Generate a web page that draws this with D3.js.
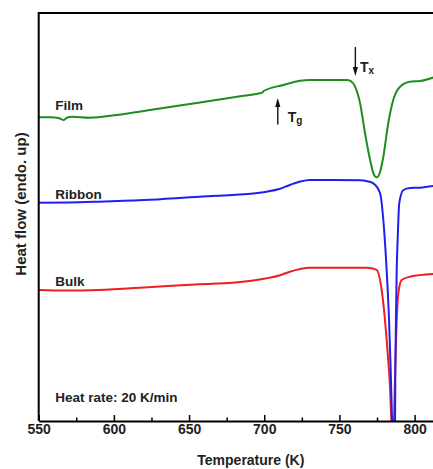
<!DOCTYPE html>
<html>
<head>
<meta charset="utf-8">
<script src="https://cdn.jsdelivr.net/npm/d3@7"></script>
<style>
  body { margin: 0; background: #fff; }
  text { font-family: "Liberation Sans", Arial, sans-serif; font-weight: bold; fill: #222; }
</style>
</head>
<body>
<div id="chart"></div>
<script>
// ── DSC traces (temperature in K, heat flow in a.u., endo. up) ─────────────
const filmT = [550, 558, 563, 566.4, 569, 572, 584, 602, 624, 646, 668, 685, 697, 698.6, 699.6,
               712.7, 723.8, 730.4, 745.7, 755, 757, 760.4, 763.7, 767, 770.4, 772.6, 774.8, 776.8,
               779.2, 782.5, 785.8, 790.3, 796.9, 803.6, 812.5];
const filmV = [303.7, 303.7, 303, 301, 303.5, 304.3, 303.3, 306, 311, 316, 321, 325, 327.7, 328.3, 330,
               336, 340.3, 341, 341, 341, 340.3, 334.3, 318, 288, 261, 247.7, 243.7, 248,
               264.3, 298, 321, 334.3, 339.3, 340, 343.5];

const ribbonT = [550, 570, 590, 620, 657, 679, 701.6, 710, 717, 724, 730.4, 745.8, 763.7, 768.5,
                 772.5, 777, 779.2, 781.4, 783, 784.1, 785, 786, 787, 787.2, 787.6, 788.1, 788.8,
                 789.8, 792.5, 797, 803.6, 812.5];
const ribbonV = [218.3, 218.5, 219.3, 221, 224.3, 226, 229.3, 232, 236, 239.5, 241, 241, 240.7, 239.7,
                 237.7, 228, 201, 151, 101, 51, 1, -40, 1, 51, 101, 151, 184.3,
                 218, 231, 233, 233.3, 235];

const bulkT = [550, 568, 590, 625, 657, 679, 701.6, 710, 717, 724, 730.4, 746, 768, 772, 774.8,
               778.1, 780.3, 782.1, 783.6, 784.5, 785.4, 786.3, 786.8, 787.4, 788.1, 789.2, 791.4,
               796.9, 812.5];
const bulkV = [131, 130.5, 131, 134, 136.8, 138.3, 142.7, 145.5, 149.3, 152, 153.3, 153.3, 153.3, 152.5, 151,
               131, 101, 68, 34.3, 1, -30, 1, 34.3, 68, 101, 128, 141,
               144.3, 147];

const majorTicks = [550, 600, 650, 700, 750, 800];
const minorTicks = [575, 625, 675, 725, 775];

const seriesNames  = ["Film", "Ribbon", "Bulk"];
const seriesColors = ["#1e8c1e", "#1f1ff0", "#f01f1f"];

// label anchors (T, heat flow)
const labelT = 561;
const labelV = [311, 222.5, 135.5];
const noteText = "Heat rate: 20 K/min";
const noteV = 19.5;

// onset markers: [T, tail, head]
const tgArrow = [709, 296.5, 323];
const txArrow = [760.6, 374, 345];

const W = 433, H = 469;

const svg = d3.select("#chart").append("svg")
  .attr("width", W).attr("height", H);

const x = d3.scaleLinear().domain([550, 812.5]).range([38.7, 433.4]);
const y = d3.scaleLinear().domain([0, 408]).range([421, 13]);

svg.append("clipPath").attr("id", "plot-clip")
  .append("rect")
    .attr("x", x(550)).attr("y", y(408))
    .attr("width", W - x(550)).attr("height", y(0) - y(408));

// ── traces ────────────────────────────────────────────────────────────────
const line = d3.line().x(d => x(d[0])).y(d => y(d[1])).curve(d3.curveMonotoneX);
const traces = [d3.zip(filmT, filmV), d3.zip(ribbonT, ribbonV), d3.zip(bulkT, bulkV)];

const g = svg.append("g").attr("clip-path", "url(#plot-clip)");
// bulk first so ribbon sits on top at the dips
[2, 1, 0].forEach(i => {
  g.append("path")
    .datum(traces[i])
    .attr("fill", "none")
    .attr("stroke", seriesColors[i])
    .attr("stroke-width", 2)
    .attr("stroke-linejoin", "round")
    .attr("d", line);
});

// ── frame & axes ──────────────────────────────────────────────────────────
svg.append("line")
  .attr("x1", x(550)).attr("x2", x(550))
  .attr("y1", y(408)).attr("y2", y(0))
  .attr("stroke", "#000").attr("stroke-width", 2);
svg.append("line")
  .attr("x1", x(550) - 1).attr("x2", W)
  .attr("y1", y(408)).attr("y2", y(408))
  .attr("stroke", "#000").attr("stroke-width", 2);

const xAxisG = svg.append("g")
  .attr("transform", `translate(0,${y(0)})`)
  .call(d3.axisBottom(x)
    .tickValues(majorTicks)
    .tickFormat(d3.format("d"))
    .tickSizeInner(-6)
    .tickSizeOuter(0)
    .tickPadding(3.2));
xAxisG.select("path.domain").attr("stroke-width", 2);
xAxisG.selectAll(".tick line").attr("stroke-width", 1.5);
xAxisG.selectAll("text")
  .style("font-size", "14px")
  .style("font-weight", "bold")
  .style("font-family", "'Liberation Sans', Arial, sans-serif")
  .attr("fill", "#222");

const minorG = svg.append("g")
  .attr("transform", `translate(0,${y(0)})`)
  .call(d3.axisBottom(x).tickValues(minorTicks).tickFormat("").tickSizeInner(-3.5).tickSizeOuter(0));
minorG.select("path.domain").remove();
minorG.selectAll(".tick line").attr("stroke-width", 1.5);

// axis titles
svg.append("text")
  .attr("x", (x(550) + W) / 2 + 15).attr("y", 465)
  .attr("text-anchor", "middle")
  .style("font-size", "14px")
  .text("Temperature (K)");
svg.append("text")
  .attr("transform", `translate(26,${y(217)}) rotate(-90)`)
  .attr("text-anchor", "middle")
  .style("font-size", "15px")
  .text("Heat flow (endo. up)");

// ── series labels & note ─────────────────────────────────────────────────
seriesNames.forEach((name, i) => {
  svg.append("text")
    .attr("x", x(labelT)).attr("y", y(labelV[i]))
    .style("font-size", "13.5px")
    .text(name);
});
svg.append("text")
  .attr("x", x(labelT)).attr("y", y(noteV))
  .style("font-size", "13.5px")
  .text(noteText);

// ── Tg / Tx arrows ────────────────────────────────────────────────────────
function arrow(a) {
  const ax = x(a[0]), y0 = y(a[1]), y1 = y(a[2]);
  const dir = y1 < y0 ? 1 : -1;   // +1 head up
  svg.append("line")
    .attr("x1", ax).attr("x2", ax)
    .attr("y1", y0).attr("y2", y1 + dir * 4)
    .attr("stroke", "#111").attr("stroke-width", 1.4);
  svg.append("path")
    .attr("d", `M${ax},${y1} L${ax - 2.6},${y1 + dir * 9} L${ax + 2.6},${y1 + dir * 9} Z`)
    .attr("fill", "#111");
}
arrow(tgArrow);
arrow(txArrow);

function tLabel(px, py, sub) {
  const t = svg.append("text")
    .attr("x", px).attr("y", py)
    .style("font-size", "14px")
    .text("T");
  t.append("tspan")
    .attr("dy", 2.5)
    .style("font-size", "10px")
    .text(sub);
}
tLabel(x(tgArrow[0]) + 10, y(tgArrow[2]) + 23.5, "g");
tLabel(x(txArrow[0]) + 4.7, y(txArrow[1]) + 24.7, "x");
</script>
</body>
</html>
